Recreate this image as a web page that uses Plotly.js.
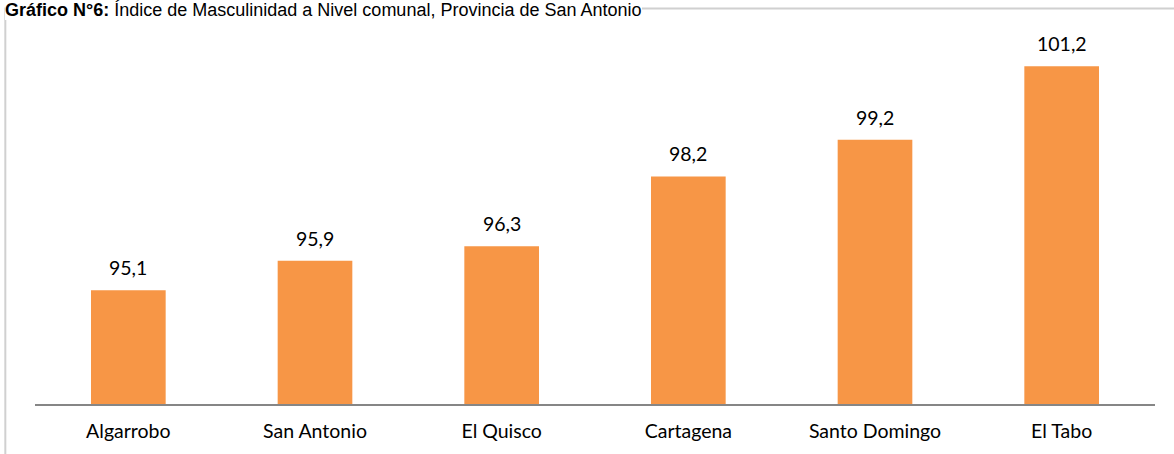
<!DOCTYPE html>
<html>
<head>
<meta charset="utf-8">
<script src="https://cdn.plot.ly/plotly-3.0.1.min.js"></script>
<style>
html,body{margin:0;padding:0;background:#fff;}
#chart{width:1174px;height:454px;}
</style>
</head>
<body>
<div id="chart"></div>
<script>
const comunas = ["Algarrobo", "San Antonio", "El Quisco", "Cartagena", "Santo Domingo", "El Tabo"];
const indice = [95.1, 95.9, 96.3, 98.2, 99.2, 101.2];
const titleBold = "Gráfico N°6:";
const titleRest = " Índice de Masculinidad a Nivel comunal, Provincia de San Antonio";

const fmt = v => v.toFixed(1).replace('.', ',');
const labelFont = {family: "Lato, 'Open Sans', sans-serif", size: 19.5, color: "#000"};

const trace = {
  type: "bar",
  x: comunas,
  y: indice,
  marker: {color: "#F79646", line: {width: 0}},
  width: 0.4,
  hoverinfo: "x+y"
};

const annotations = comunas.map((c, i) => ({
  x: c, y: indice[i], xref: "x", yref: "y",
  text: fmt(indice[i]), showarrow: false,
  yanchor: "bottom", yshift: 9,
  font: labelFont
}));
annotations.push({
  xref: "paper", yref: "paper",
  x: -0.0265, y: 1.1008, xanchor: "left", yanchor: "top",
  text: "<b>" + titleBold + "</b>" + titleRest,
  showarrow: false, bgcolor: "#fff", borderpad: 0, borderwidth: 0,
  font: {family: "'Liberation Sans', Arial, sans-serif", size: 18, color: "#000"}
});

const layout = {
  width: 1174, height: 454,
  margin: {l: 35, r: 19, t: 37, b: 50, pad: 0},
  paper_bgcolor: "#fff", plot_bgcolor: "#fff",
  separators: ",.",
  showlegend: false,
  bargap: 0.6,
  xaxis: {
    type: "category",
    showline: true, linecolor: "#868686", linewidth: 1.5,
    showgrid: false, zeroline: false, ticks: "",
    tickfont: labelFont,
    ticklabelstandoff: 9
  },
  yaxis: {
    range: [92, 102], visible: false, showgrid: false, zeroline: false
  },
  annotations: annotations,
  shapes: [{
    type: "path", xref: "paper", yref: "paper", layer: "below",
    path: "M -0.0265,-0.2 L -0.0265,1.0777 L 1.03,1.0777",
    line: {color: "#D0D0D0", width: 2}
  }]
};

Plotly.newPlot("chart", [trace], layout, {displayModeBar: false, staticPlot: true});
</script>
</body>
</html>
